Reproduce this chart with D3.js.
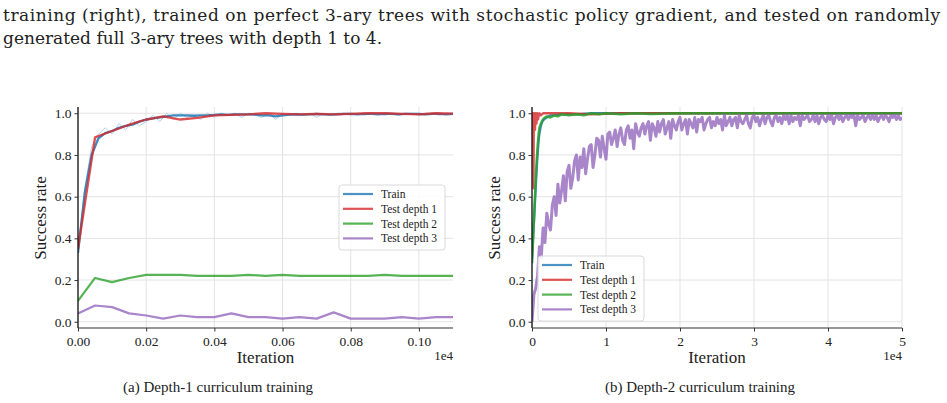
<!DOCTYPE html>
<html>
<head>
<meta charset="utf-8">
<script src="https://cdn.jsdelivr.net/npm/d3@7"></script>
<style>
  body { margin: 0; background: #fff; }
  svg { display: block; }
</style>
</head>
<body>
<div id="chart"></div>
<script>
// ---- data (iterations in units of 1e4) ----
const seriesNames = ["Train", "Test depth 1", "Test depth 2", "Test depth 3"];
const seriesColors = ["#1f77b4", "#d62728", "#2ca02c", "#9467bd"];

// (a) depth-1 curriculum
const aRawStep = 0.002;
const aTrainRaw = [0.35,0.64,0.84,0.90,0.93,0.90,0.95,0.92,0.97,0.94,0.96,0.99,0.96,1.0,0.97,1.0,0.98,0.99,0.97,1.0,
  0.98,1.0,0.99,1.0,0.98,1.0,0.99,0.98,1.0,0.97,1.0,0.99,1.0,0.99,1.0,0.98,1.0,0.99,1.0,1.0,
  0.99,1.0,0.99,1.0,1.0,0.99,1.0,0.99,1.0,1.0,0.99,1.0,1.0,0.99,1.0,1.0];
const aTrainStep = 0.002;
const aTrain = [0.33,0.62,0.80,0.88,0.905,0.915,0.93,0.94,0.945,0.96,0.97,0.975,0.98,0.985,0.99,0.99,0.99,0.988,0.99,0.99,
  0.992,0.995,0.992,0.995,0.995,0.995,0.993,0.99,0.99,0.985,0.99,0.993,0.995,0.993,0.995,0.997,0.995,0.993,0.995,0.997,
  0.997,0.995,0.997,0.997,0.995,0.997,0.997,0.995,0.997,0.997,0.997,0.995,0.997,0.997,0.995,0.997];
const aTestStep = 0.005;
const aTest1 = [0.35,0.885,0.915,0.945,0.97,0.985,0.97,0.978,0.99,0.992,0.995,1.0,0.997,0.995,0.997,0.995,0.997,1.0,1.0,0.997,0.995,1.0,0.998];
const aTest2 = [0.10,0.21,0.19,0.21,0.225,0.225,0.225,0.22,0.22,0.22,0.225,0.22,0.225,0.22,0.22,0.22,0.22,0.22,0.225,0.22,0.22,0.22,0.22];
const aTest3 = [0.04,0.078,0.07,0.04,0.03,0.015,0.03,0.022,0.022,0.04,0.022,0.022,0.015,0.022,0.015,0.045,0.015,0.015,0.015,0.022,0.015,0.022,0.022];

// (b) depth-2 curriculum
const bTrainX = [0,0.01,0.02,0.03,0.04,0.05,0.06,0.07,0.08,0.09,0.1,0.12,0.14,0.16,0.2,0.25,0.3,0.4,0.6,0.8,1.0,1.5,2,2.5,3,3.5,4,4.5,5];
const bTrain  = [0.3,0.37,0.44,0.5,0.57,0.64,0.71,0.77,0.82,0.87,0.9,0.94,0.96,0.97,0.98,0.99,0.99,0.995,0.995,1.0,1.0,1.0,1.0,1.0,1.0,1.0,1.0,1.0,1.0];
const bTest1X = [0,0.01,0.015,0.02,0.025,0.03,0.04,0.05,0.06,0.07,0.08,0.1,0.12,0.15,0.2,0.3,0.5,0.8,1.2,1.6,2,2.5,3,3.5,4,4.5,5];
const bTest1  = [0.92,1.0,0.9,0.64,0.98,1.0,0.92,1.0,0.95,1.0,0.97,1.0,0.99,1.0,1.0,1.0,1.0,0.995,1.0,1.0,1.0,1.0,1.0,1.0,1.0,1.0,1.0];
const bTest2X = [0,0.01,0.02,0.03,0.04,0.05,0.06,0.07,0.08,0.09,0.1,0.12,0.14,0.16,0.2,0.25,0.3,0.35,0.4,0.5,0.6,0.7,0.8,0.9,1.0,1.2,1.4,1.6,2,2.5,3,3.5,4,4.5,5];
const bTest2  = [0.28,0.36,0.44,0.52,0.6,0.68,0.75,0.81,0.86,0.9,0.93,0.95,0.965,0.975,0.985,0.98,0.99,0.985,0.995,0.99,0.995,0.99,1.0,0.995,1.0,0.995,1.0,0.997,1.0,1.0,1.0,1.0,1.0,1.0,1.0];
const bTest3Step = 0.025;
const bTest3 = [0.00,0.13,0.16,0.22,0.36,0.31,0.45,0.38,0.52,0.47,0.44,0.56,0.60,0.51,0.66,0.57,0.63,0.70,0.58,0.72,
  0.75,0.64,0.69,0.77,0.80,0.68,0.79,0.74,0.83,0.71,0.78,0.84,0.85,0.74,0.80,0.88,0.87,0.79,0.89,0.83,
  0.78,0.90,0.91,0.85,0.88,0.92,0.84,0.90,0.93,0.87,0.85,0.92,0.94,0.88,0.92,0.83,0.95,0.91,0.89,0.93,
  0.95,0.90,0.94,0.96,0.87,0.95,0.93,0.89,0.96,0.91,0.95,0.97,0.90,0.93,0.96,0.88,0.97,0.94,0.92,0.96,
  0.98,0.92,0.95,0.97,0.90,0.97,0.95,0.93,0.98,0.91,0.97,0.96,0.98,0.92,0.95,0.97,0.98,0.93,0.96,0.94,
  0.98,0.95,0.97,0.92,0.99,0.94,0.96,0.98,0.94,0.97,0.98,0.93,0.99,0.96,0.95,0.97,0.99,0.95,0.93,0.98,
  0.99,0.96,0.98,0.94,0.97,0.99,0.95,0.98,0.99,0.96,0.94,0.98,0.99,0.96,0.98,0.95,0.99,0.97,0.99,0.95,
  0.99,0.96,0.98,0.97,0.99,0.94,0.99,0.97,0.98,0.99,0.96,0.97,0.99,0.96,0.99,0.95,0.98,0.99,0.97,0.96,
  0.99,0.97,0.99,0.95,0.98,0.99,0.97,0.99,0.96,0.98,0.99,0.97,0.99,0.98,0.99,0.94,0.99,0.97,0.98,0.99,
  0.96,0.98,0.99,0.97,0.99,0.97,0.99,0.96,0.98,0.99,0.97,0.99,0.98,0.96,0.99,0.98,0.99,0.97,0.99,0.97,0.98];

const yTicks = [0, 0.2, 0.4, 0.6, 0.8, 1.0];
const aXTicks = [0, 0.02, 0.04, 0.06, 0.08, 0.10];
const bXTicks = [0, 1, 2, 3, 4, 5];

const captionLines = [
  "training (right), trained on perfect 3-ary trees with stochastic policy gradient, and tested on randomly",
  "generated full 3-ary trees with depth 1 to 4."
];
const subCaptions = ["(a) Depth-1 curriculum training", "(b) Depth-2 curriculum training"];

// ---- drawing ----
const FONT = "'Liberation Serif', 'DejaVu Serif', serif";
const CAPFONT = "'DejaVu Serif', 'Liberation Serif', serif";
const W = 947, H = 403;
const svg = d3.select("#chart").append("svg").attr("width", W).attr("height", H)
  .attr("font-family", FONT);

const txt = (sel, f) => sel.append("text").attr("font-family", f || FONT).attr("fill", "#222");

// caption: fit the first line to the text width, then use the same size for line 2
const cap1 = txt(svg, CAPFONT).attr("x", 3).attr("y", 21).attr("font-size", 15).text(captionLines[0]);
const fitSize = Math.min(17, 15 * 937 / cap1.node().getComputedTextLength());
cap1.attr("font-size", fitSize).attr("textLength", 937).attr("lengthAdjust", "spacing");
txt(svg, CAPFONT).attr("x", 3).attr("y", 44).attr("font-size", fitSize).text(captionLines[1]);

const stepped = (vals, step) => vals.map((v, i) => [i * step, v]);
const paired = (xs, vals) => xs.map((x, i) => [x, vals[i]]);

function panel(cfg) {
  const x = d3.scaleLinear().domain(cfg.xDomain).range([cfg.left, cfg.right]);
  const y = d3.scaleLinear().domain([-0.03, 1.03]).range([328, 107]);
  const g = svg.append("g");

  // grid
  g.append("g").selectAll("line").data(yTicks).join("line")
    .attr("x1", cfg.left).attr("x2", cfg.right)
    .attr("y1", d => y(d)).attr("y2", d => y(d))
    .attr("stroke", "#e3e3e3").attr("stroke-width", 1);
  g.append("g").selectAll("line").data(cfg.xTicks).join("line")
    .attr("x1", d => x(d)).attr("x2", d => x(d))
    .attr("y1", 107).attr("y2", 328)
    .attr("stroke", "#e3e3e3").attr("stroke-width", 1);

  const line = d3.line().x(d => x(d[0])).y(d => y(d[1]));
  const clip = "clip" + cfg.id;
  svg.append("clipPath").attr("id", clip).append("rect")
    .attr("x", cfg.left).attr("y", 100).attr("width", cfg.right - cfg.left).attr("height", 230);
  const plot = g.append("g").attr("clip-path", `url(#${clip})`);
  cfg.series.forEach(s => {
    plot.append("path").datum(s.data).attr("d", line)
      .attr("fill", "none").attr("stroke", s.color).attr("stroke-opacity", s.opacity)
      .attr("stroke-width", s.width).attr("stroke-linejoin", "round");
  });

  // axes
  const ya = g.append("g").attr("transform", `translate(${cfg.left},0)`)
    .call(d3.axisLeft(y).tickValues(yTicks).tickFormat(d3.format(".1f")).tickSize(3.5).tickPadding(3));
  const xa = g.append("g").attr("transform", "translate(0,328)")
    .call(d3.axisBottom(x).tickValues(cfg.xTicks).tickFormat(cfg.xFormat).tickSize(3.5).tickPadding(5));
  [ya, xa].forEach(a => {
    a.attr("font-family", FONT).attr("font-size", 13.5);
    a.selectAll("text").attr("font-family", FONT).attr("font-size", 13.5).attr("fill", "#222");
    a.selectAll(".tick line").attr("stroke", "#333");
  });
  ya.select(".domain").attr("d", `M0,107V328`).attr("stroke", "#111").attr("stroke-width", 1.3);
  xa.select(".domain").attr("d", `M${cfg.left},0H${cfg.right}`).attr("stroke", "#333").attr("stroke-width", 1.1);

  txt(g).attr("x", (cfg.left + cfg.right) / 2).attr("y", 363)
    .attr("text-anchor", "middle").attr("font-size", 17).text("Iteration");
  txt(g).attr("x", cfg.right).attr("y", 360)
    .attr("text-anchor", "end").attr("font-size", 13).text("1e4");
  txt(g).attr("transform", `translate(${cfg.left - 32},218) rotate(-90)`)
    .attr("text-anchor", "middle").attr("font-size", 17).text("Success rate");

  // legend
  const L = cfg.legend;
  g.append("rect").attr("x", L.x).attr("y", L.y).attr("width", 106).attr("height", 65)
    .attr("rx", 3).attr("fill", "#fff").attr("fill-opacity", 0.85)
    .attr("stroke", "#d9d9d9").attr("stroke-width", 1);
  seriesNames.forEach((n, i) => {
    const yy = L.y + 9 + i * 14.8;
    g.append("line").attr("x1", L.x + 4).attr("x2", L.x + 34).attr("y1", yy).attr("y2", yy)
      .attr("stroke", seriesColors[i]).attr("stroke-opacity", 0.8).attr("stroke-width", 2.2);
    txt(g).attr("x", L.x + 42).attr("y", yy + 4).attr("font-size", 11.5).text(n);
  });

  txt(svg).attr("x", cfg.capX).attr("y", 392).attr("font-size", 15.5)
    .attr("textLength", 190).attr("lengthAdjust", "spacingAndGlyphs").text(cfg.caption);
}

panel({
  id: "a", left: 78, right: 453, xDomain: [0, 0.11], xTicks: aXTicks, xFormat: d3.format(".2f"),
  legend: { x: 339, y: 185 }, caption: subCaptions[0], capX: 123,
  series: [
    { data: stepped(aTrainRaw, aRawStep), color: "#9ec5e6", opacity: 0.8, width: 1 },
    { data: stepped(aTrain, aTrainStep), color: seriesColors[0], opacity: 0.85, width: 2.3 },
    { data: stepped(aTest1, aTestStep), color: seriesColors[1], opacity: 0.8, width: 2.3 },
    { data: stepped(aTest2, aTestStep), color: seriesColors[2], opacity: 0.8, width: 2.2 },
    { data: stepped(aTest3, aTestStep), color: seriesColors[3], opacity: 0.8, width: 2.2 }
  ]
});

panel({
  id: "b", left: 532, right: 902, xDomain: [0, 5], xTicks: bXTicks, xFormat: d3.format("d"),
  legend: { x: 538, y: 256 }, caption: subCaptions[1], capX: 605,
  series: [
    { data: paired(bTrainX, bTrain), color: seriesColors[0], opacity: 0.85, width: 2.3 },
    { data: paired(bTest1X, bTest1), color: seriesColors[1], opacity: 0.8, width: 2.3 },
    { data: paired(bTest2X, bTest2), color: seriesColors[2], opacity: 0.85, width: 2.5 },
    { data: stepped(bTest3, bTest3Step), color: seriesColors[3], opacity: 0.8, width: 3 }
  ]
});
</script>
</body>
</html>
